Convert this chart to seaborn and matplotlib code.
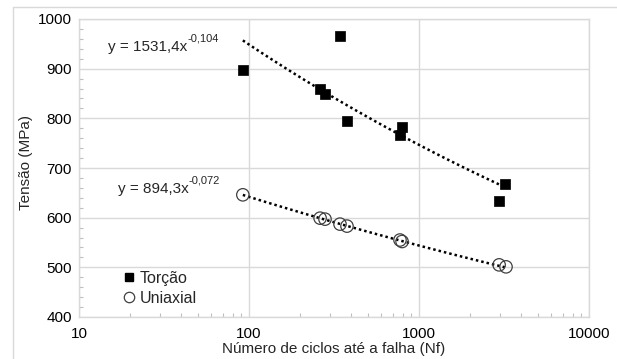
import numpy as np
import pandas as pd
import seaborn as sns
import matplotlib.pyplot as plt
from matplotlib.lines import Line2D
from matplotlib.ticker import MultipleLocator, LogLocator, NullFormatter, FixedLocator, FixedFormatter

# data
torcao_nf = [92, 343, 262, 280, 377, 795, 773, 3206, 2960]
torcao_mpa = [897, 966, 859, 848, 795, 783, 767, 668, 634]
uni_nf = [92, 262, 280, 343, 377, 773, 795, 2960, 3250]
uni_mpa = [646, 599, 597, 587, 583, 555, 552, 505, 501]

# power-law trendlines shown on the chart: y = a * x^b
torcao_a, torcao_b = 1531.4, -0.104
uni_a, uni_b = 894.3, -0.072
trend_nf = [92, 3250]

x_ticks = [10, 100, 1000, 10000]
y_ticks = [400, 500, 600, 700, 800, 900, 1000]

df = pd.DataFrame({
    "Nf": torcao_nf + uni_nf,
    "Tensao": torcao_mpa + uni_mpa,
    "Ensaio": ["Torção"] * len(torcao_nf) + ["Uniaxial"] * len(uni_nf),
})

sns.set_style("white")
plt.rcParams['font.family'] = ['Liberation Sans', 'DejaVu Sans']

fig = plt.figure(figsize=(6.17, 3.59), dpi=100)
ax = fig.add_axes([79 / 617, 1 - 317 / 359, 510 / 617, 298 / 359])

# trendlines
xs = np.geomspace(trend_nf[0], trend_nf[1], 100)
ax.plot(xs, torcao_a * xs ** torcao_b, color='black', ls=(0, (1, 1.2)), lw=1.8, zorder=3)
ax.plot(xs, uni_a * xs ** uni_b, color='black', ls=(0, (1, 1.2)), lw=1.8, zorder=3)

sub = df[df.Ensaio == "Torção"]
sns.scatterplot(data=sub, x="Nf", y="Tensao", marker='s', s=60, color='black',
                edgecolor='black', linewidth=0.5, ax=ax, zorder=4, legend=False)
sub = df[df.Ensaio == "Uniaxial"]
sns.scatterplot(data=sub, x="Nf", y="Tensao", marker='o', s=80, facecolor='none',
                edgecolor='#404040', linewidth=0.9, ax=ax, zorder=4, legend=False)

ax.set_xscale('log')
ax.set_xlim(10, 10000)
ax.set_ylim(400, 1000)
ax.xaxis.set_major_locator(FixedLocator(x_ticks))
ax.xaxis.set_major_formatter(FixedFormatter([str(t) for t in x_ticks]))
ax.xaxis.set_minor_locator(LogLocator(base=10, subs=np.arange(2, 10)))
ax.xaxis.set_minor_formatter(NullFormatter())
ax.set_yticks(y_ticks)
ax.yaxis.set_minor_locator(MultipleLocator(20))

ax.grid(True, which='major', color='#d9d9d9', lw=1)
for sp in ax.spines.values():
    sp.set_color('#d9d9d9')
    sp.set_linewidth(1)
ax.tick_params(which='major', length=0, labelsize=11, colors='#000000', pad=5)
ax.tick_params(axis='x', which='major', pad=7)
ax.tick_params(which='minor', length=3, direction='in', color='#bfbfbf', width=0.8)
ax.tick_params(axis='y', which='minor', left=True)
ax.tick_params(axis='x', which='minor', bottom=True)

ax.set_xlabel("Número de ciclos até a falha (Nf)", fontsize=11, labelpad=0)
ax.set_ylabel("Tensão (MPa)", fontsize=11, labelpad=4)
ax.xaxis.set_label_coords(0.5, -0.085)
ax.yaxis.set_label_coords(-0.09, 0.52)

# trendline equations (base text + superscript with plain hyphen)
t1 = ax.text(0.057, 0.907, "y = 1531,4x", transform=ax.transAxes,
             fontsize=11, va='center', ha='left')
ax.annotate("-0,104", xy=(1, 0.75), xycoords=t1, fontsize=8, va='bottom', ha='left')
t2 = ax.text(0.076, 0.43, "y = 894,3x", transform=ax.transAxes,
             fontsize=11, va='center', ha='left')
ax.annotate("-0,072", xy=(1, 0.75), xycoords=t2, fontsize=8, va='bottom', ha='left')

handles = [
    Line2D([], [], marker='s', ls='none', color='black', markersize=6),
    Line2D([], [], marker='o', ls='none', markerfacecolor='none', markeredgecolor='#404040',
           markersize=7.5, markeredgewidth=0.9),
]
ax.legend(handles, ["Torção", "Uniaxial"], loc='lower left', bbox_to_anchor=(0.058, 0.0),
          frameon=False, fontsize=11.5, handletextpad=0.05, labelspacing=0.3,
          handlelength=1.2, borderaxespad=0.3)

# outer chart border (top and left edges visible)
fig.add_artist(Line2D([13 / 617, 1], [1 - 7 / 359, 1 - 7 / 359], color='#d9d9d9', lw=1,
                      transform=fig.transFigure))
fig.add_artist(Line2D([13 / 617, 13 / 617], [0, 1 - 7 / 359], color='#d9d9d9', lw=1,
                      transform=fig.transFigure))

fig.savefig("out.png", dpi=100)
